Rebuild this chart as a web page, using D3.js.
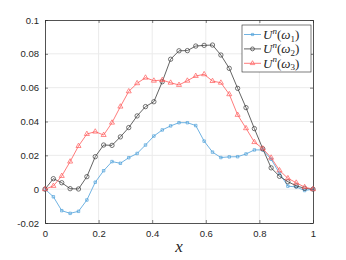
<!DOCTYPE html>
<html>
<head>
<meta charset="utf-8">
<script src="https://cdn.jsdelivr.net/npm/d3@7"></script>
<style>
  body { margin: 0; background: #fff; }
  svg { display: block; }
</style>
</head>
<body>
<script>
var width = 346;
var height = 260;
var margin = {left: 45, right: 33, top: 20, bottom: 37};

// sample positions x = i/32
var xValues = d3.range(33).map(function(i) { return i / 32; });
var u1 = [0, -0.0045, -0.0127, -0.0143, -0.0131, -0.0064, 0.0041, 0.0109, 0.0163, 0.0153, 0.0186,
  0.0211, 0.0261, 0.0314, 0.0350, 0.0374, 0.0393, 0.0393, 0.0376, 0.0284, 0.0219,
  0.0187, 0.0191, 0.0192, 0.0208, 0.0232, 0.0232, 0.0177, 0.0094, 0.0018, 0.0013, -0.0008, 0];
var u2 = [0, 0.0062, 0.0038, 0.0003, 0.0001, 0.0074, 0.0192, 0.0261, 0.0259, 0.0309, 0.0364,
  0.0433, 0.0488, 0.0517, 0.0635, 0.0768, 0.0818, 0.0819, 0.0846, 0.0850, 0.0852,
  0.0793, 0.0714, 0.0596, 0.0482, 0.0358, 0.0239, 0.0126, 0.0076, 0.0044, 0.0020, 0.0005, 0];
var u3 = [0, 0.0019, 0.0078, 0.0163, 0.0255, 0.0326, 0.0340, 0.0320, 0.0393, 0.0488, 0.0578,
  0.0626, 0.0659, 0.0641, 0.0645, 0.0629, 0.0616, 0.0641, 0.0669, 0.0679, 0.0639,
  0.0629, 0.0561, 0.0439, 0.0360, 0.0278, 0.0240, 0.0186, 0.0111, 0.0064, 0.0038, 0.0012, 0];
var xTicks = [0, 0.2, 0.4, 0.6, 0.8, 1];
var yTicks = [-0.02, 0, 0.02, 0.04, 0.06, 0.08, 0.1];
var seriesNames = ["1", "2", "3"];

var series = [
  {sub: seriesNames[0], values: u1, color: "rgb(77,160,218)", marker: "square"},
  {sub: seriesNames[1], values: u2, color: "rgb(60,60,60)", marker: "circle"},
  {sub: seriesNames[2], values: u3, color: "rgb(255,90,90)", marker: "triangle"}
];

var axisColor = "rgb(38,38,38)";
var gridColor = "rgb(235,235,235)";
var tickFont = "'Liberation Sans', Arial, sans-serif";
var mathFont = "'Liberation Serif', 'Times New Roman', serif";

var svg = d3.select("body").append("svg")
  .attr("width", width)
  .attr("height", height);

var x = d3.scaleLinear().domain([0, 1]).range([margin.left, width - margin.right]);
var y = d3.scaleLinear().domain([-0.02, 0.1]).range([height - margin.bottom, margin.top]);

// grid
var grid = svg.append("g");
grid.selectAll("line.gx").data(xTicks.slice(1, -1)).enter().append("line")
  .attr("x1", x).attr("x2", x)
  .attr("y1", y(-0.02)).attr("y2", y(0.1))
  .attr("stroke", gridColor).attr("stroke-width", 1);
grid.selectAll("line.gy").data(yTicks.slice(1, -1)).enter().append("line")
  .attr("y1", y).attr("y2", y)
  .attr("x1", x(0)).attr("x2", x(1))
  .attr("stroke", gridColor).attr("stroke-width", 1);

// axes
var fmt = function(d) { return d === 0 ? "0" : String(+d.toFixed(2)); };
var xAxis = svg.append("g")
  .attr("transform", "translate(0," + y(-0.02) + ")")
  .call(d3.axisBottom(x).tickValues(xTicks).tickFormat(fmt).tickSizeInner(-3).tickSizeOuter(0).tickPadding(7));
var yAxis = svg.append("g")
  .attr("transform", "translate(" + x(0) + ",0)")
  .call(d3.axisLeft(y).tickValues(yTicks).tickFormat(fmt).tickSizeInner(-3).tickSizeOuter(0).tickPadding(6));
// top and right box
var xAxisTop = svg.append("g")
  .attr("transform", "translate(0," + y(0.1) + ")")
  .call(d3.axisTop(x).tickValues(xTicks).tickFormat("").tickSizeInner(-3).tickSizeOuter(0));
var yAxisRight = svg.append("g")
  .attr("transform", "translate(" + x(1) + ",0)")
  .call(d3.axisRight(y).tickValues(yTicks).tickFormat("").tickSizeInner(-3).tickSizeOuter(0));

[xAxis, yAxis, xAxisTop, yAxisRight].forEach(function(g) {
  g.select(".domain").attr("stroke", axisColor).attr("stroke-width", 0.8);
  g.selectAll(".tick line").attr("stroke", axisColor).attr("stroke-width", 0.6);
  g.selectAll(".tick text")
    .attr("fill", axisColor)
    .attr("font-family", tickFont)
    .attr("font-size", 9.5);
});

// series
var line = d3.line()
  .x(function(d, i) { return x(xValues[i]); })
  .y(function(d) { return y(d); });

var symbolFor = function(kind, scale) {
  scale = scale || 1;
  if (kind === "square") return d3.symbol().type(d3.symbolSquare).size(6 * scale);
  if (kind === "circle") return d3.symbol().type(d3.symbolCircle).size(15 * scale);
  return d3.symbol().type(d3.symbolTriangle).size(11 * scale);
};

series.forEach(function(s) {
  var g = svg.append("g");
  g.append("path")
    .datum(s.values)
    .attr("d", line)
    .attr("fill", "none")
    .attr("stroke", s.color)
    .attr("stroke-width", 0.8);
  g.selectAll("path.marker").data(s.values).enter().append("path")
    .attr("class", "marker")
    .attr("d", symbolFor(s.marker))
    .attr("transform", function(d, i) { return "translate(" + x(xValues[i]) + "," + y(d) + ")"; })
    .attr("fill", "none")
    .attr("stroke", s.color)
    .attr("stroke-width", 0.7);
});

// x label
svg.append("text")
  .attr("x", (x(0) + x(1)) / 2)
  .attr("y", 252)
  .attr("text-anchor", "middle")
  .attr("font-family", mathFont)
  .attr("font-style", "italic")
  .attr("font-size", 17)
  .attr("fill", axisColor)
  .text("x");

// legend
var lg = svg.append("g");
var lgX = 242, lgY = 25, lgW = 69, lgH = 47;
lg.append("rect")
  .attr("x", lgX).attr("y", lgY)
  .attr("width", lgW).attr("height", lgH)
  .attr("fill", "#fff")
  .attr("stroke", axisColor)
  .attr("stroke-width", 0.6);

series.forEach(function(s, i) {
  var cy = lgY + 9.5 + i * 14.4;
  lg.append("line")
    .attr("x1", lgX + 2).attr("x2", lgX + 19)
    .attr("y1", cy).attr("y2", cy)
    .attr("stroke", s.color).attr("stroke-width", 0.8);
  lg.append("path")
    .attr("d", symbolFor(s.marker, 0.8))
    .attr("transform", "translate(" + (lgX + 10.5) + "," + cy + ")")
    .attr("fill", "none")
    .attr("stroke", s.color)
    .attr("stroke-width", 0.7);
  var t = lg.append("text")
    .attr("x", lgX + 21)
    .attr("y", cy + 4.5)
    .attr("font-family", mathFont)
    .attr("font-size", 13)
    .attr("fill", axisColor);
  t.append("tspan").attr("font-style", "italic").text("U");
  t.append("tspan").attr("font-style", "italic").attr("font-size", 9).attr("dy", -5.5).text("n");
  t.append("tspan").attr("dy", 5.5).text("(");
  t.append("tspan").attr("font-style", "italic").text("ω");
  t.append("tspan").attr("font-size", 9).attr("dy", 2.5).text(s.sub);
  t.append("tspan").attr("dy", -2.5).text(")");
});
</script>
</body>
</html>
